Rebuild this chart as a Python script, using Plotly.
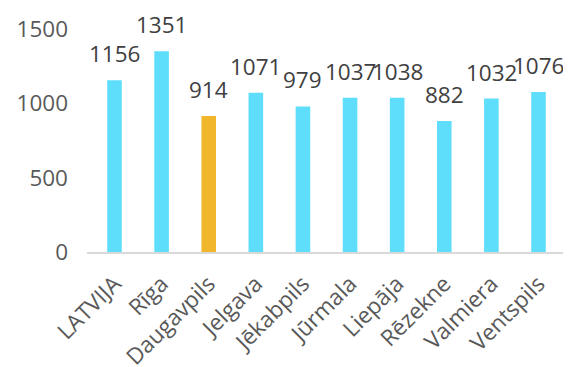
import plotly.graph_objects as go

categories = ["LATVIJA", "Rīga", "Daugavpils", "Jelgava", "Jēkabpils", "Jūrmala",
              "Liepāja", "Rēzekne", "Valmiera", "Ventspils"]
values = [1156, 1351, 914, 1071, 979, 1037, 1038, 882, 1032, 1076]
highlight = "Daugavpils"

cyan = "#5fdefb"
orange = "#f0b72c"
colors = [orange if c == highlight else cyan for c in categories]

fig = go.Figure(go.Bar(
    x=categories, y=values,
    marker=dict(color=colors, line=dict(width=0)),
    cliponaxis=False,
))

for c, v in zip(categories, values):
    fig.add_annotation(x=c, y=v, text=str(v), showarrow=False,
                       yanchor="bottom", yshift=9,
                       font=dict(size=22.5, color="#404040", family="Open Sans"))

# page body has an 8px default margin, so the figure is sized to fit the window
fig.update_layout(
    width=563, height=359,
    margin=dict(l=79, r=5, t=21, b=115),
    paper_bgcolor="white", plot_bgcolor="white",
    bargap=0.69,
    showlegend=False,
    font=dict(family="Open Sans", color="#595959"),
)
fig.update_yaxes(range=[0, 1500], tickvals=[0, 500, 1000, 1500], showgrid=False,
                 zeroline=False, showline=False, ticks="", automargin=False,
                 tickfont=dict(size=22.5, color="#595959"), ticklabelstandoff=18)
fig.update_xaxes(showline=True, linecolor="#d9d9d9", linewidth=1.5, ticks="",
                 automargin=False, ticklabelstandoff=8,
                 tickangle=-45, tickfont=dict(size=22.5, color="#595959"))

fig.write_html("out.html")
